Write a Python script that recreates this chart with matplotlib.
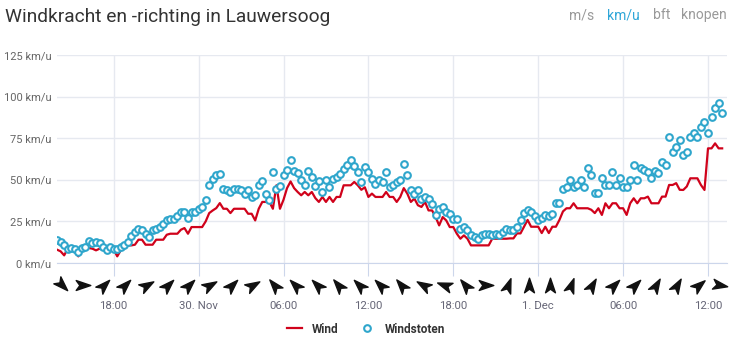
import matplotlib
matplotlib.use("Agg")
import matplotlib.pyplot as plt
from matplotlib.path import Path
from matplotlib.markers import MarkerStyle
from matplotlib.transforms import Affine2D, blended_transform_factory
import pandas as pd

plt.rcParams['font.family'] = ['Roboto', 'DejaVu Sans']

# metingen per kwartier, 29 nov 14:00 t/m 1 dec 13:00
start = "2023-11-29 14:00"
wind = [8, 7, 4.6, 8.6, 8, 7, 4, 7.6, 9.6, 9, 8.6, 7.6, 8.6, 8, 7.6, 7.6,
        8, 4, 7.6, 9, 10.6, 10.6, 11, 14, 14, 11, 11, 11, 14, 14, 14, 17,
        17.6, 17.6, 17.6, 20, 21, 17.6, 21.6, 21.6, 21.6, 21.6, 25, 30, 31.6, 33,
        36, 32.6, 32.6, 30, 32.6, 32.6, 32.6, 32.6, 29.6, 29.6, 25.6, 32.6, 36.7, 36.7,
        36.7, 32.6, 46.7, 32.6, 38, 45, 49, 45, 42.7, 40.7, 42.7, 40.7, 42.7, 39,
        36.7, 39.7, 36.7, 39.7, 36.7, 39.7, 39.7, 46.7, 46.7, 46.7, 48.7, 46.7, 44, 45.5,
        39.7, 41.7, 39.7, 39.7, 39.7, 42.7, 39.7, 39.7, 36.7, 39.7, 45, 41.7, 36.7, 38.7,
        34.7, 33.7, 36.7, 31.6, 31.6, 27.6, 22.6, 27.6, 25.6, 21.6, 21.6, 17.6, 14.6, 16.6,
        14.6, 10.6, 10.6, 10.6, 10.6, 10.6, 10.6, 14.6, 14.6, 14.6, 14.6, 14.6, 14.8, 14.8,
        17.8, 17.8, 21.8, 25.9, 21.8, 21.8, 21.8, 18, 21.8, 18, 21.8, 21.8, 25.9, 31,
        32.9, 32.9, 35.9, 32.9, 32.9, 32.9, 32.9, 32, 30, 32.9, 28.9, 35.9, 32.9, 35.9,
        35.9, 32.9, 32.9, 28.9, 35.9, 38.9, 35.9, 38.9, 38.9, 39.9, 35.9, 35.9, 35.9, 39.9,
        39.9, 46.9, 46.9, 48, 44, 43.9, 46, 50.9, 50.9, 50.9, 46.9, 43.9, 68.9, 68.9,
        71.9, 68.9, 68.9]
windstoten = [13.6, 12.6, 10.6, 8.6, 9, 8.6, 6.6, 9, 9.6, 13, 12, 12.6, 12, 9.6, 8, 9.6,
              8.6, 8.6, 9.6, 10.6, 12.6, 16, 18.6, 20.6, 19.6, 17.6, 15.6, 19.6, 20.6, 21.6,
              23.6, 25.6, 26.6, 26.6, 28, 30.6, 30.6, 27, 30.6, 30.6, 32.6, 33.6, 37.6, 46.6,
              50.7, 52.7, 53.7, 44.7, 43.7, 42.7, 44.7, 44.7, 43.7, 41.7, 43.7, 39.7, 40.7, 46.7,
              49, 41.7, 38, 54.7, 44.7, 46, 52.7, 55.7, 61.7, 55, 54, 50, 47, 55,
              51.7, 46, 49, 42.7, 49.7, 45.7, 50.7, 51.7, 53.7, 56.7, 58.7, 61.7, 58, 54.7,
              48.7, 57.7, 54.7, 50.7, 47.7, 49.7, 48.7, 54.5, 45.7, 46.7, 48.7, 49.7, 59.7, 52.7,
              43.7, 41.7, 43.7, 38.7, 39.7, 38.7, 35.7, 28.6, 32.6, 33.6, 30.6, 29.6, 26.6, 26.6,
              20.6, 21.6, 20, 17, 15.6, 14.6, 16.6, 17.6, 17.6, 16.6, 17.6, 17, 18.6, 20.6,
              20, 19.8, 21.8, 25.9, 29.9, 31.9, 30.9, 28, 26, 27, 29, 28.5, 29.7, 35.9,
              35.9, 44.4, 45.9, 49.9, 45.9, 46.9, 49.9, 45.9, 56.9, 52.9, 41.9, 41.9, 50.9, 46.9,
              46.9, 54.9, 46.9, 50.9, 45.9, 45.9, 49.9, 58.9, 49.9, 56.9, 55.9, 54.9, 50.9, 55,
              53.9, 60.9, 58.9, 75.9, 66.9, 69.9, 73.9, 64.9, 66.9, 75.9, 77.9, 75.9, 82, 84.9,
              78, 87.9, 93, 96, 90]

# windrichting (richting waarin de pijl wijst, graden), elke 1,5 uur
pijl_start = "2023-11-29 14:20"
richting = [135, 90, 45, 45, 60, 45, 45, 60, 45, 60, 320, 315, 315, 320, 315, 315,
            320, 300, 290, 320, 90, 20, 0, 0, 20, 30, 45, 45, 30, 30, 50, 100, 90]

tick_tijden = ["2023-11-29 18:00", "2023-11-30 00:00", "2023-11-30 06:00", "2023-11-30 12:00",
               "2023-11-30 18:00", "2023-12-01 00:00", "2023-12-01 06:00", "2023-12-01 12:00"]
tick_labels = ["18:00", "30. Nov", "06:00", "12:00", "18:00", "1. Dec", "06:00", "12:00"]

tijd = pd.date_range(start, periods=len(wind), freq="15min")
pijl_tijd = pd.date_range(pijl_start, periods=len(richting), freq="90min")

fig = plt.figure(figsize=(7.32, 3.41), dpi=100)
ax = fig.add_axes([0.078, 0.2287, 0.915, 0.61])

ax.plot(tijd, wind, color="#d0021b", lw=1.6, zorder=3, label="Wind")
ax.plot(tijd, windstoten, ls="none", marker="o", ms=4.8, mew=1.5, mfc="white",
        mec="#2fa6cc", zorder=4, label="Windstoten")

ax.set_ylim(0, 125)
ax.set_yticks([0, 25, 50, 75, 100, 125])
ax.set_yticklabels([f"{v} km/u" for v in [0, 25, 50, 75, 100, 125]])
ax.set_xlim(pd.Timestamp("2023-11-29 14:00"), pd.Timestamp("2023-12-01 13:20"))
ax.set_xticks(pd.to_datetime(tick_tijden))
ax.set_xticklabels(tick_labels)

ax.grid(True, color="#e6e9f0", lw=1)
ax.set_axisbelow(True)
for s in ["top", "right", "left"]:
    ax.spines[s].set_visible(False)
ax.spines["bottom"].set_color("#ccd6eb")
ax.tick_params(axis="y", length=0, pad=4, labelsize=8, labelcolor="#666666")
ax.tick_params(axis="x", length=9, color="#ccd6eb", pad=18, labelsize=8.2, labelcolor="#666677")

# pijltjes voor de windrichting onder de as
pijl = Path([(1, 0), (-1, 0.68), (-0.5, 0), (-1, -0.68), (1, 0)],
            [Path.MOVETO, Path.LINETO, Path.LINETO, Path.LINETO, Path.CLOSEPOLY])
trans = blended_transform_factory(ax.transData, ax.transAxes)
for t, r in zip(pijl_tijd, richting):
    m = MarkerStyle(pijl, transform=Affine2D().rotate_deg(90 - r))
    ax.plot([t], [-0.105], marker=m, ms=10.5, color="#111111", ls="none",
            transform=trans, clip_on=False)

fig.text(0.007, 0.95, "Windkracht en -richting in Lauwersoog", fontsize=13.8,
         color="#333333", va="center")
eenheden = [("m/s", 0.778, "#999999"), ("km/u", 0.829, "#2fa6d8"),
            ("bft", 0.892, "#999999"), ("knopen", 0.931, "#999999")]
for tekst, xpos, kleur in eenheden:
    fig.text(xpos, 0.955, tekst, fontsize=10, color=kleur, va="center")

fig.legend(loc="center", bbox_to_anchor=(0.5, 0.035), ncol=2, frameon=False,
           prop={"weight": "bold", "size": 8.5}, labelcolor="#333333",
           handlelength=1.3, columnspacing=1.8)

fig.savefig("out.png", dpi=100)
